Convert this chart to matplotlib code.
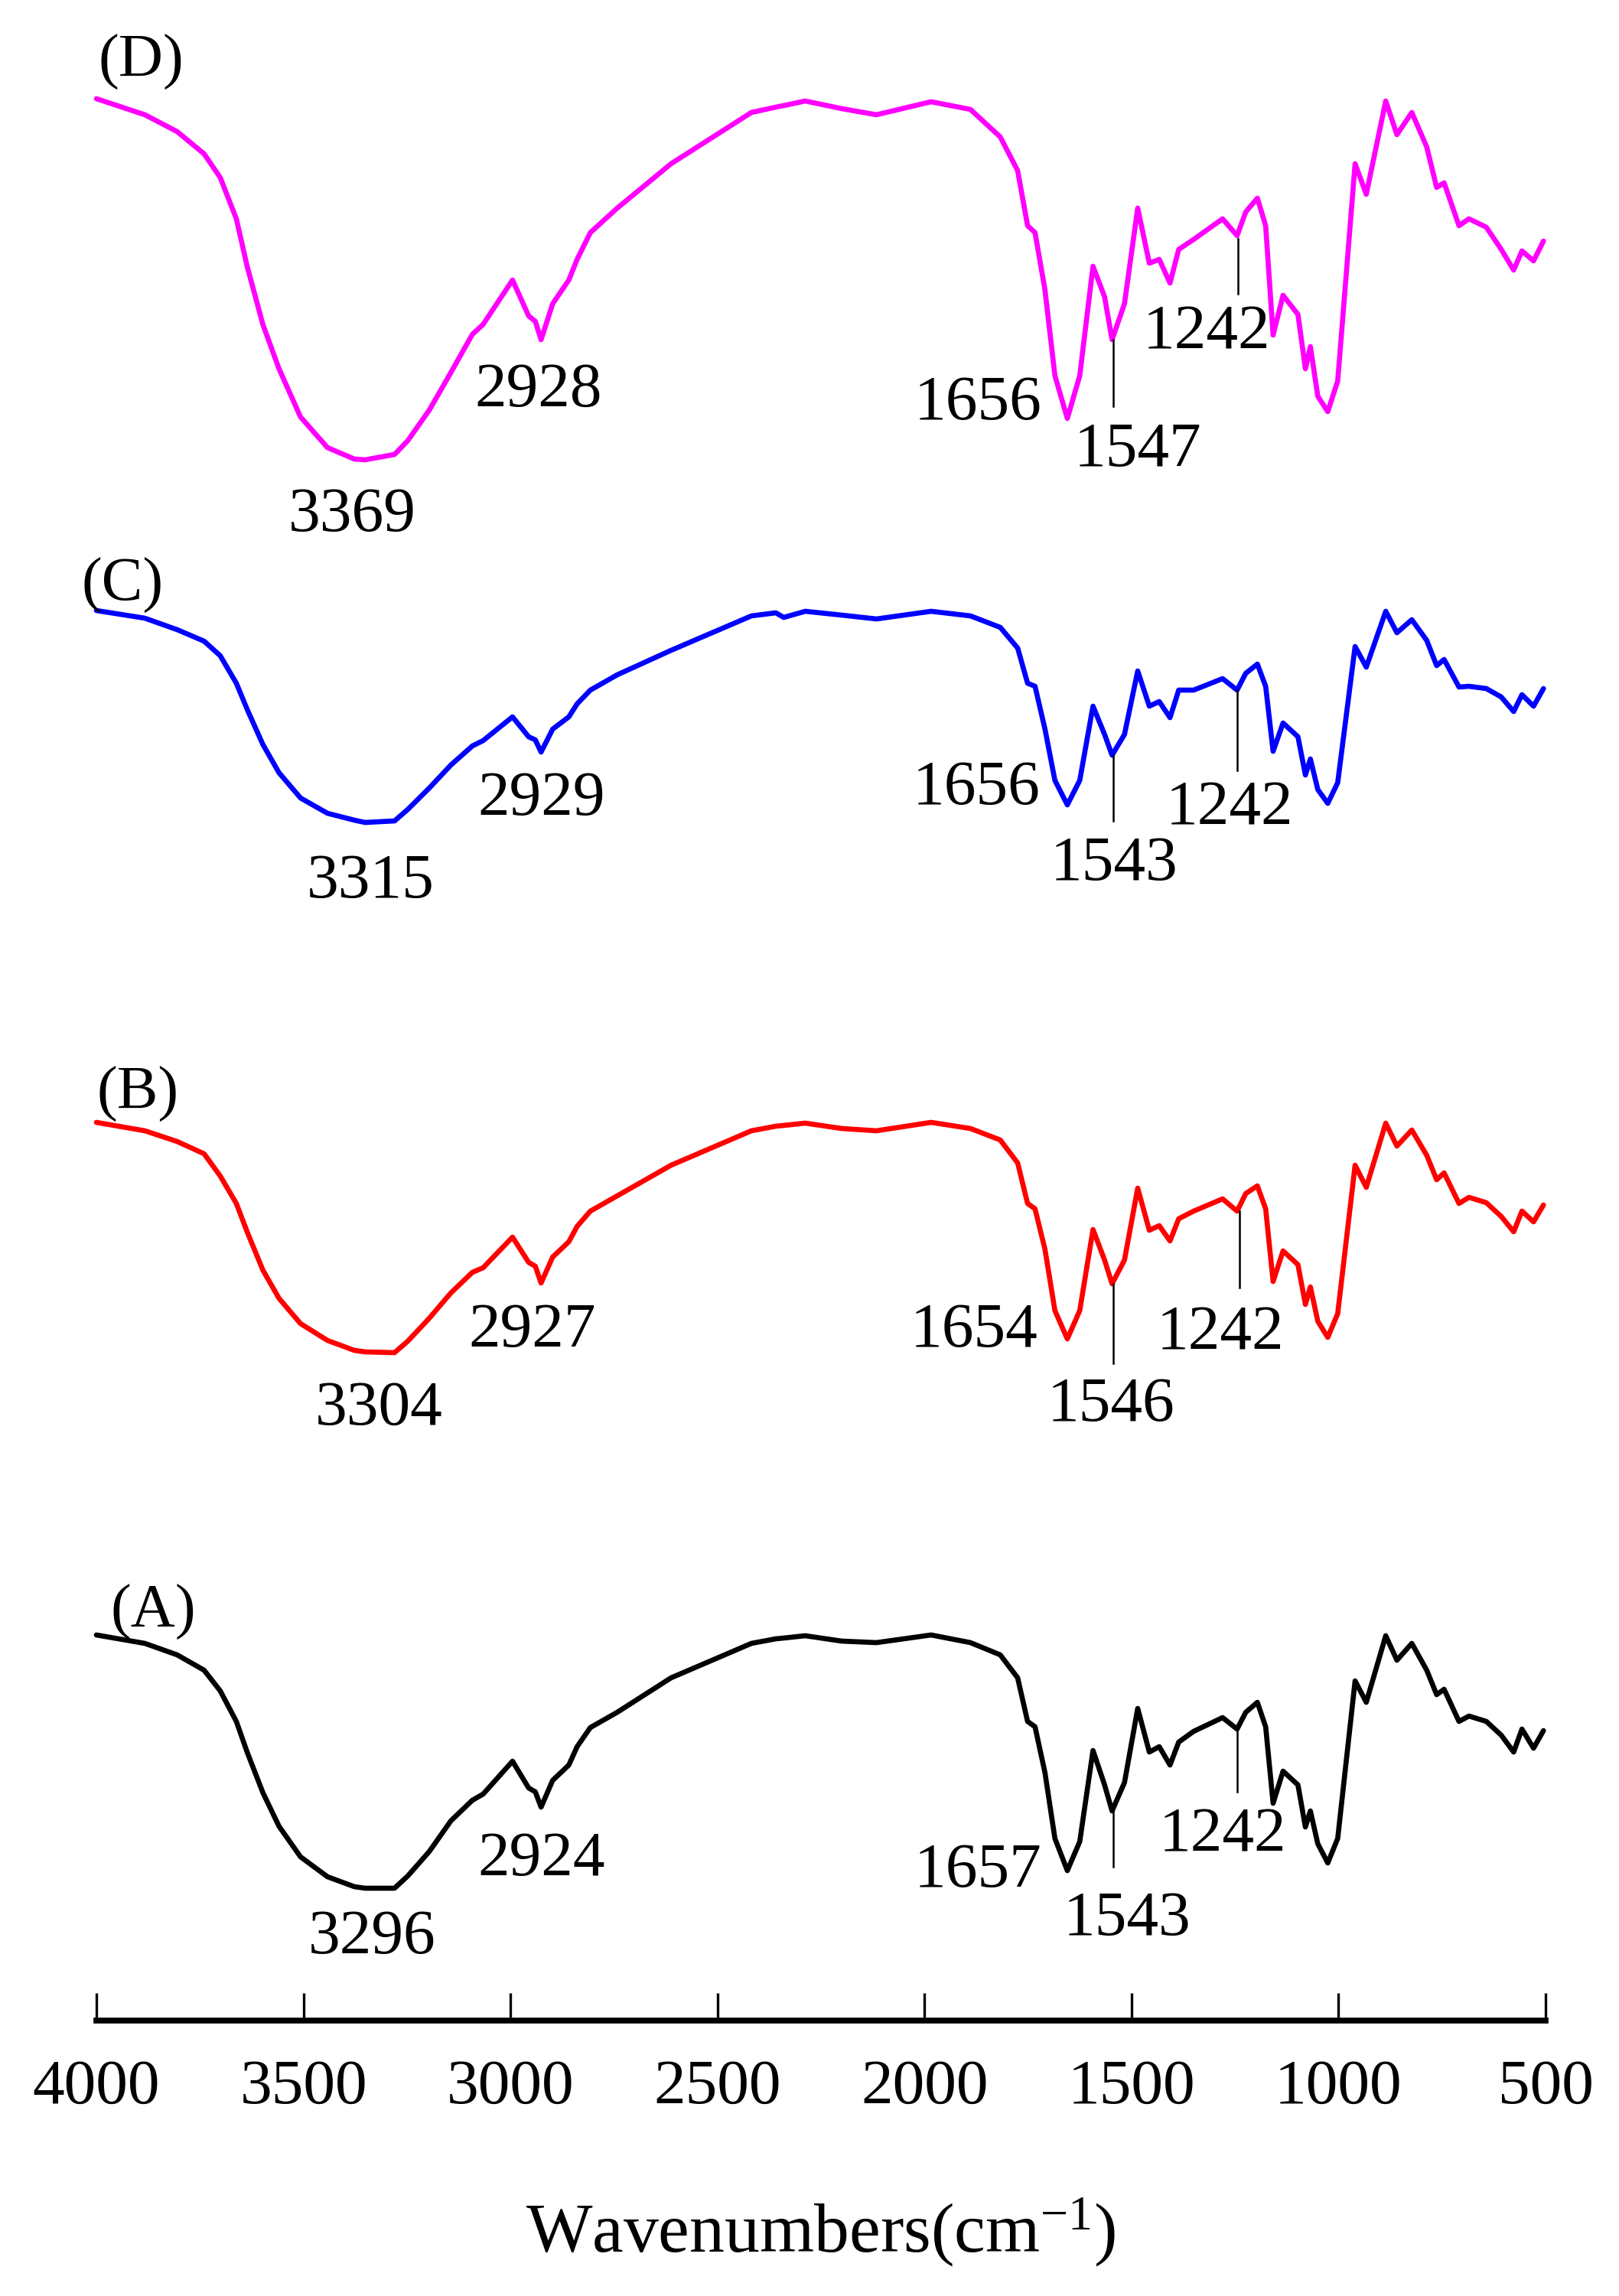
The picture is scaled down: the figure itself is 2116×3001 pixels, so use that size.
import matplotlib
matplotlib.use("Agg")
import matplotlib.pyplot as plt

plt.rcParams['font.family'] = ['Liberation Serif', 'DejaVu Serif']
plt.rcParams['mathtext.fontset'] = 'custom'
plt.rcParams['mathtext.rm'] = 'Liberation Serif'
plt.rcParams['mathtext.it'] = 'Liberation Serif:italic'

# ---------------- data (FTIR spectra, stacked transmittance, a.u.) ----------------
wavenumbers = [4000, 3883, 3805, 3740, 3701, 3662, 3636, 3598, 3559, 3507, 3442,
               3377, 3351, 3280, 3248, 3196, 3144, 3092, 3066, 2995, 2956, 2940,
               2926, 2898, 2859, 2839, 2807, 2742, 2612, 2418, 2359, 2340, 2288,
               2200, 2116, 1984, 1889, 1817, 1775, 1751, 1733, 1709, 1685, 1655,
               1625, 1593, 1565, 1547, 1517, 1485, 1457, 1433, 1407, 1386, 1350,
               1280, 1245, 1224, 1196, 1176, 1158, 1134, 1098, 1080, 1068, 1050,
               1026, 1002, 960, 933, 886, 859, 823, 787, 763, 745, 709, 685, 643,
               607, 577, 557, 529, 505]

spec_D = [251.2, 249.1, 246.9, 244.0, 240.9, 235.5, 229.3, 221.7, 215.9, 209.6, 205.6,
          204.1, 204.0,
          204.7, 206.5, 210.5, 215.4, 220.4, 221.7, 227.5, 222.8, 222.1, 219.7, 224.4, 227.5, 230.2, 233.7,
          236.9, 242.7, 249.4, 250.1, 250.3, 250.9, 249.9, 249.1, 250.8,
          249.8, 246.2, 241.8, 234.6, 233.7, 226.2, 215.0, 209.4, 215.0, 229.3,
          225.3, 219.7, 224.4, 236.9, 229.7, 230.2, 227.1, 231.5, 232.8, 235.5,
          233.3, 236.4, 238.2, 234.6, 220.3, 225.5, 223.0, 215.9, 218.8, 212.3,
          210.3, 214.3, 242.7, 238.7, 250.9, 246.5, 249.4, 244.9, 239.6, 240.2,
          234.6, 235.5, 234.4, 231.5, 228.8, 231.3, 230.0, 232.6]

spec_C = [184.3, 183.3, 181.8, 180.3, 178.4, 174.8, 171.4, 166.8, 163.1, 159.8, 157.8,
          156.9, 156.6,
          156.8, 158.3, 161.1, 164.1, 166.6, 167.3, 170.4, 167.8, 167.4, 165.8, 168.8, 170.4, 172.1, 173.9,
          175.9, 179.1, 183.6, 184.0, 183.4, 184.2, 183.7, 183.2, 184.2,
          183.6, 182.1, 179.4, 174.8, 174.4, 168.8, 162.1, 158.9, 162.1, 171.8,
          168.1, 165.4, 168.1, 176.4, 171.8, 172.4, 170.3, 173.9, 173.9, 175.4,
          173.9, 176.1, 177.3, 174.4, 165.9, 169.6, 167.8, 162.8, 164.9, 160.9,
          159.1, 161.8, 179.6, 176.9, 184.2, 181.4, 183.1, 180.4, 177.1, 177.9,
          174.3, 174.4, 174.1, 173.0, 171.1, 173.3, 171.8, 174.1]

spec_B = [117.4, 116.3, 114.9, 113.3, 110.4, 106.8, 103.1, 98.1, 94.4, 91.1, 88.9,
          87.6, 87.4,
          87.3, 88.8, 91.8, 95.1, 97.8, 98.4, 102.4, 99.1, 98.6, 96.4, 99.8, 101.8, 103.8, 105.8,
          107.8, 111.8, 116.3, 116.9, 117.0, 117.3, 116.6, 116.3, 117.4,
          116.6, 115.1, 112.1, 106.8, 106.1, 100.8, 92.8, 89.1, 92.8, 103.4,
          99.4, 96.3, 99.4, 108.8, 103.3, 103.9, 101.9, 104.8, 105.8, 107.4,
          105.8, 108.1, 109.1, 106.1, 96.6, 100.6, 98.8, 93.6, 95.9, 91.4,
          89.3, 92.4, 111.8, 108.9, 117.3, 114.3, 116.4, 113.1, 109.9, 110.8,
          106.8, 107.6, 106.9, 105.1, 103.1, 105.8, 104.4, 106.6]

spec_A = [50.4, 49.3, 47.8, 45.8, 43.1, 39.1, 35.1, 29.8, 25.4, 21.4, 18.8,
          17.5, 17.3,
          17.3, 18.9, 22.1, 26.1, 28.8, 29.6, 33.9, 30.4, 29.9, 27.9, 31.4, 33.4, 35.8, 38.3,
          40.3, 44.8, 49.3, 49.9, 50.0, 50.3, 49.6, 49.4, 50.4,
          49.4, 47.8, 44.8, 39.1, 38.4, 32.4, 23.8, 19.6, 23.4, 35.3,
          30.8, 27.4, 31.1, 40.8, 35.1, 35.8, 33.4, 36.4, 37.8, 39.6,
          38.1, 40.3, 41.6, 38.4, 28.4, 32.6, 30.8, 25.3, 27.4, 23.1,
          20.6, 23.8, 44.4, 41.6, 50.3, 47.1, 49.3, 45.8, 42.6, 43.3,
          39.1, 39.8, 39.1, 37.3, 35.1, 38.1, 35.6, 37.9]

series_names = ['(A)', '(B)', '(C)', '(D)']
series_colors = ['#000000', '#FF0000', '#0000FF', '#FF00FF']

# panel label anchors (wavenumber, value)
panel_label_pos = {'(D)': (3893, 254.0), '(C)': (3937, 185.6),
                   '(B)': (3900, 119.1), '(A)': (3863, 51.4)}

# peak annotations: (text, text wavenumber, text baseline value)
peak_labels_D = [('3369', 3383, 194.7), ('2928', 2932, 211.0), ('1656', 1871, 209.3),
                 ('1547', 1485, 203.2), ('1242', 1318, 218.6)]
peak_labels_C = [('3315', 3338, 146.8), ('2929', 2926, 157.6), ('1656', 1875, 159.0),
                 ('1543', 1542, 149.1), ('1242', 1263, 156.4)]
peak_labels_B = [('3304', 3318, 77.9), ('2927', 2948, 88.1), ('1654', 1880, 88.1),
                 ('1546', 1549, 78.4), ('1242', 1285, 87.7)]
peak_labels_A = [('3296', 3335, 8.8), ('2924', 2926, 19.0), ('1657', 1871, 17.5),
                 ('1543', 1511, 11.2), ('1242', 1280, 22.2)]

# leader lines: (wavenumber, y_top, y_bottom)
leader_lines = [(1544, 219.7, 211.0), (1243, 232.9, 225.7),
                (1544, 165.4, 156.8), (1245, 173.9, 163.4),
                (1544, 96.3, 85.9), (1239, 105.8, 95.8),
                (1544, 27.4, 20.1), (1245, 38.1, 29.9)]

xticks = [4000, 3500, 3000, 2500, 2000, 1500, 1000, 500]

# ---------------- figure ----------------
W, H = 2116, 3001
fig = plt.figure(figsize=(W / 100, H / 100), dpi=100)
ax = fig.add_axes([126 / W, 360 / H, (2020 - 126) / W, 2641 / H])

for name, color, spec in zip(series_names, series_colors,
                             [spec_A, spec_B, spec_C, spec_D]):
    ax.plot(wavenumbers, spec, color=color, lw=4.8, solid_joinstyle='round',
            solid_capstyle='round', clip_on=False)
    px, py = panel_label_pos[name]
    ax.text(px, py, name, fontsize=58, ha='center', va='baseline', color='black')

for labels in [peak_labels_D, peak_labels_C, peak_labels_B, peak_labels_A]:
    for txt, wx, vy in labels:
        ax.text(wx, vy, txt, fontsize=60, ha='center', va='baseline', color='black')

for wx, y0, y1 in leader_lines:
    ax.plot([wx, wx], [y0, y1], color='black', lw=1.8)

ax.set_xlim(4000, 500)
ax.set_ylim(0, 264.1)
ax.set_xticks(xticks)
ax.set_xticklabels([str(t) for t in xticks])
ax.set_yticks([])
for s in ['top', 'left', 'right']:
    ax.spines[s].set_visible(False)
ax.spines['bottom'].set_linewidth(5.5)
ax.tick_params(axis='x', direction='in', length=26, width=2.4, pad=36,
               labelsize=60)
ax.patch.set_alpha(0)

fig.text(1073 / W, (H - 2944) / H, 'Wavenumbers(cm$^{\\mathrm{-1}}$)',
         fontsize=66, ha='center', va='baseline')

fig.savefig('out.png', dpi=100)
